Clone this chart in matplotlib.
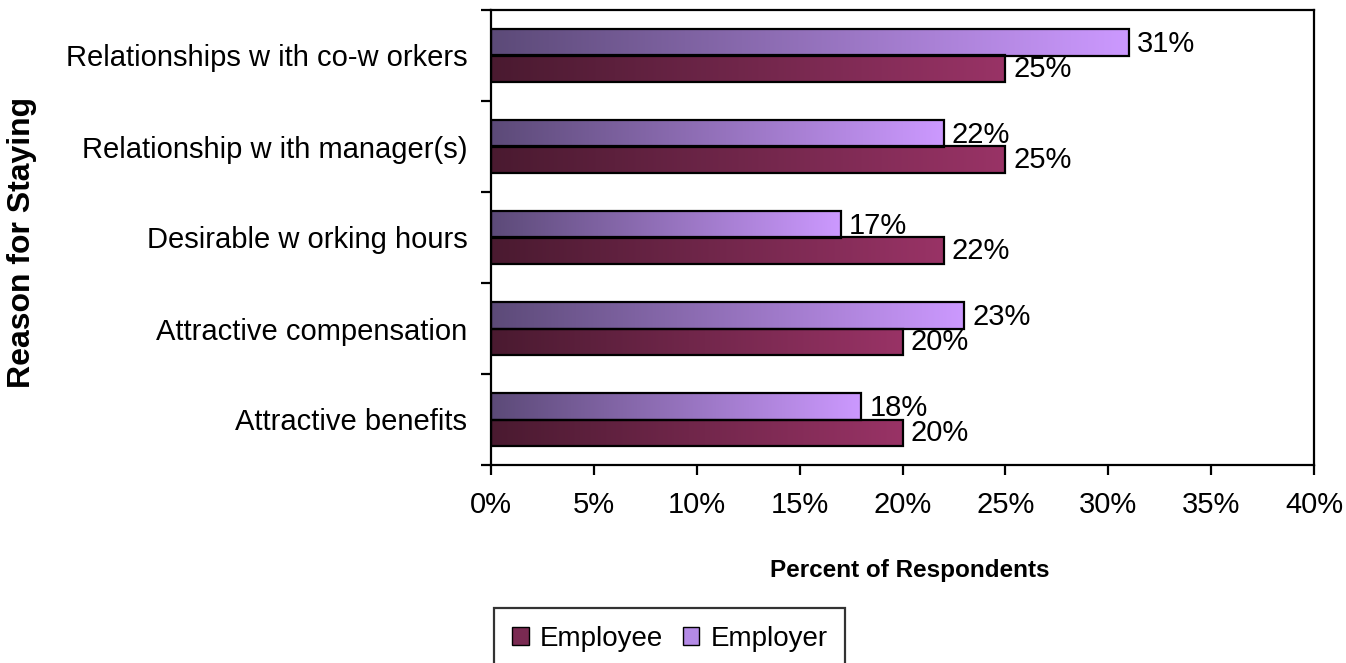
import matplotlib
matplotlib.use("Agg")
import matplotlib.pyplot as plt
import numpy as np
from matplotlib.colors import LinearSegmentedColormap
from matplotlib.patches import Patch

plt.rcParams['font.family'] = ['Liberation Sans', 'DejaVu Sans']

categories = ["Attractive benefits", "Attractive compensation", "Desirable w orking hours",
              "Relationship w ith manager(s)", "Relationships w ith co-w orkers"]
employee = [20, 20, 22, 25, 25]
employer = [18, 23, 17, 22, 31]
xticks = [0, 5, 10, 15, 20, 25, 30, 35, 40]

cmap_employee = LinearSegmentedColormap.from_list("emp", ["#4a1a30", "#993366"])
cmap_employer = LinearSegmentedColormap.from_list("emr", ["#5c4a78", "#cc99ff"])

W, H = 1346, 663
fig = plt.figure(figsize=(W / 100, H / 100), dpi=100)
ax = fig.add_axes([491 / W, 1 - 465 / H, (1314 - 491) / W, (465 - 10) / H])

y = np.arange(len(categories))
h = 0.29
bars_emp = ax.barh(y - h / 2, employee, height=h, facecolor="none", edgecolor="black", linewidth=1.6, zorder=3)
bars_emr = ax.barh(y + h / 2, employer, height=h, facecolor="none", edgecolor="black", linewidth=1.6, zorder=3)

# horizontal gradient across each bar
grad = np.linspace(0, 1, 256).reshape(1, -1)
for bars, cmap in [(bars_emp, cmap_employee), (bars_emr, cmap_employer)]:
    for b in bars:
        x0, y0 = b.get_x(), b.get_y()
        ax.imshow(grad, cmap=cmap, aspect="auto", extent=(x0, x0 + b.get_width(), y0, y0 + b.get_height()),
                  zorder=2, interpolation="bilinear")

for i in range(len(categories)):
    ax.text(employee[i] + 0.4, y[i] - h / 2, "%d%%" % employee[i], va="center", ha="left", fontsize=21)
    ax.text(employer[i] + 0.4, y[i] + h / 2 - 0.02, "%d%%" % employer[i], va="center", ha="left", fontsize=21)

ax.set_xlim(0, 40)
ax.set_ylim(-0.5, len(categories) - 0.5)
ax.set_xticks(xticks)
ax.set_xticklabels(["%d%%" % t for t in xticks], fontsize=21)
ax.set_yticks(np.arange(-0.5, len(categories), 1.0))
ax.set_yticklabels([])
ax.set_yticks(y, minor=True)
ax.set_yticklabels(categories, minor=True, fontsize=21)
ax.tick_params(axis="y", which="minor", length=0, pad=17)
ax.tick_params(axis="y", which="major", length=7, width=1.6)
ax.tick_params(axis="x", length=7, width=1.6, pad=12)
for s in ax.spines.values():
    s.set_linewidth(1.6)

fig.text(910 / W, 1 - 571 / H, "Percent of Respondents", fontsize=17.5, fontweight="bold",
         ha="center", va="center")
fig.text(22 / W, 1 - 242 / H, "Reason for Staying", rotation=90, fontsize=23, fontweight="bold",
         ha="center", va="center")

handles = [Patch(facecolor="#7a2a52", edgecolor="black", label="Employee"),
           Patch(facecolor="#b48ae6", edgecolor="black", label="Employer")]
leg = fig.legend(handles=handles, loc="upper left", bbox_to_anchor=(494 / W, 1 - 608 / H), ncol=2,
                 fontsize=20, frameon=True, fancybox=False, edgecolor="black", handlelength=0.6,
                 handleheight=0.6, handletextpad=0.4, columnspacing=0.7, borderpad=0.65, borderaxespad=0)
leg.get_frame().set_linewidth(1.6)

fig.savefig("out.png", dpi=100)
